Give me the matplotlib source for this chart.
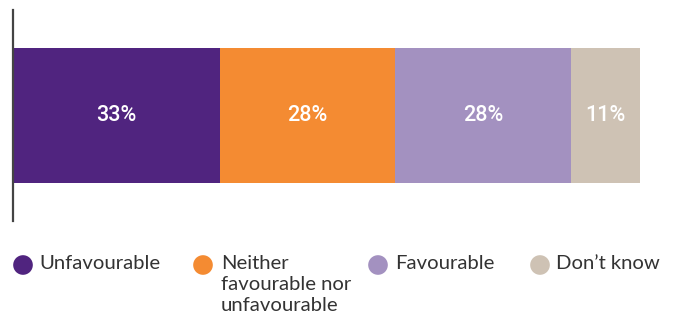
import matplotlib
matplotlib.use("Agg")
import matplotlib.pyplot as plt

categories = ["Unfavourable", "Neither\nfavourable nor\nunfavourable", "Favourable", "Don\u2019t know"]
values = [33, 28, 28, 11]
value_labels = ["33%", "28%", "28%", "11%"]
colors = ["#50247F", "#F48B32", "#A391C0", "#CEC2B4"]

W, H = 675, 322
fig = plt.figure(figsize=(W / 100, H / 100), dpi=100)

# main stacked bar
ax = fig.add_axes([12.5 / W, (H - 221) / H, 627.5 / W, 211 / H])
left = 0
for v, lab, c in zip(values, value_labels, colors):
    ax.barh(0, v, left=left, height=0.64, color=c, edgecolor="none")
    ax.text(left + v / 2, 0, lab, ha="center", va="center", color="white",
            fontsize=15.5, family="Roboto", fontweight="medium")
    left += v
ax.set_xlim(0, sum(values))
ax.set_ylim(-0.5, 0.5)
for s in ["top", "right", "bottom"]:
    ax.spines[s].set_visible(False)
ax.spines["left"].set_color("#444444")
ax.spines["left"].set_linewidth(1.6)
ax.set_xticks([])
ax.set_yticks([])

# legend row in pixel coordinates
lg = fig.add_axes([0, 0, 1, 1])
lg.set_xlim(0, W)
lg.set_ylim(H, 0)
lg.axis("off")
marker_x = [23, 203, 378, 540]
text_x = [39, 221, 395, 556]
for mx, tx, name, c in zip(marker_x, text_x, categories, colors):
    lg.scatter([mx], [265], s=200, color=c, edgecolors="none")
    lg.text(tx, 255, name, ha="left", va="top", fontsize=14.6, family="Lato",
            color="#333333", linespacing=1.28)

fig.savefig("out.png", dpi=100)
